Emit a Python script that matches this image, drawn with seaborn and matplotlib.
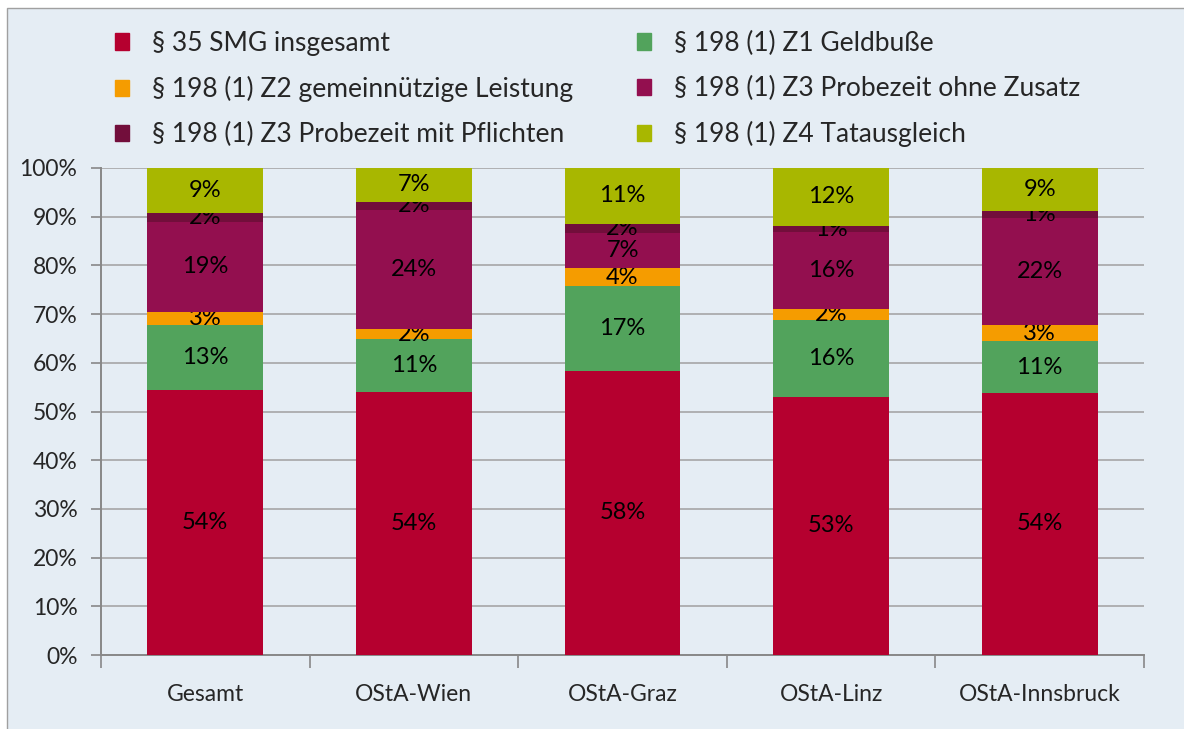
import matplotlib.pyplot as plt
import matplotlib.patches as mpatches
import numpy as np
import seaborn as sns

# categories on the x axis
regions = ["Gesamt", "OStA-Wien", "OStA-Graz", "OStA-Linz", "OStA-Innsbruck"]

# stacked series, bottom to top (share in %)
smg_insgesamt = [54.4, 54.1, 58.4, 53.0, 53.8]
z1_geldbusse = [13.4, 10.8, 17.4, 15.8, 10.6]
z2_gemeinnuetzig = [2.6, 2.0, 3.6, 2.2, 3.4]
z3_ohne_zusatz = [18.6, 24.4, 7.2, 15.8, 22.0]
z3_mit_pflichten = [1.8, 1.8, 2.0, 1.3, 1.3]
z4_tatausgleich = [9.2, 6.9, 11.4, 11.9, 8.9]

series_names = [
    "§ 35 SMG insgesamt",
    "§ 198 (1) Z1 Geldbuße",
    "§ 198 (1) Z2 gemeinnützige Leistung",
    "§ 198 (1) Z3 Probezeit ohne Zusatz",
    "§ 198 (1) Z3 Probezeit mit Pflichten",
    "§ 198 (1) Z4 Tatausgleich",
]
series_values = [smg_insgesamt, z1_geldbusse, z2_gemeinnuetzig,
                 z3_ohne_zusatz, z3_mit_pflichten, z4_tatausgleich]
colors = ["#B5002F", "#52A35C", "#F59C00", "#930F4F", "#720E3B", "#A8B700"]

BG = "#E5EDF4"
GRID = "#A6A6A6"

sns.set_theme(style="white")
plt.rcParams["font.family"] = ["Lato", "DejaVu Sans"]

fig = plt.figure(figsize=(11.84, 7.29), dpi=100, facecolor="white")
# chart area panel with thin border
fig.patches.append(mpatches.Rectangle((7 / 1184, -0.01), 1.1, (729 - 8) / 729 + 0.01,
                                      transform=fig.transFigure, facecolor=BG,
                                      edgecolor="#A0A0A0", linewidth=1.0, zorder=-10))
ax = fig.add_axes([101 / 1184, 74 / 729, (1144 - 101) / 1184, (655 - 168) / 729])
ax.set_facecolor(BG)

bottom = np.zeros(len(regions))
handles = []
for name, vals, col in zip(series_names, series_values, colors):
    sns.barplot(x=regions, y=vals, bottom=bottom, color=col, width=0.555,
                errorbar=None, saturation=1, ax=ax, zorder=3, linewidth=0)
    cont = ax.containers[-1]
    ax.bar_label(cont, labels=[f"{round(v)}%" for v in vals], label_type="center",
                 fontsize=17, color="black")
    handles.append(mpatches.Patch(color=col, label=name))
    bottom += np.array(vals)

ax.set_ylim(0, 100)
ax.set_xlim(-0.5, len(regions) - 0.5)
ax.set_yticks(np.arange(0, 101, 10))
ax.set_yticklabels([f"{v}%" for v in range(0, 101, 10)], fontsize=16.5)
ax.yaxis.grid(True, color=GRID, linewidth=1.2, zorder=0)
ax.set_axisbelow(True)
ax.tick_params(axis="y", length=7, color="#888888", width=1.2, pad=10, left=True)

ax.set_xticks(range(len(regions)))
ax.set_xticklabels(regions, fontsize=16.5)
ax.tick_params(axis="x", length=0, pad=21)
ax.set_xticks(np.arange(-0.5, len(regions)), minor=True)
ax.tick_params(axis="x", which="minor", length=9, color="#888888", width=1.2, bottom=True)
ax.set_xlabel("")
ax.set_ylabel("")

for s in ["top", "right"]:
    ax.spines[s].set_visible(False)
for s in ["left", "bottom"]:
    ax.spines[s].set_color("#888888")
    ax.spines[s].set_linewidth(1.4)

# legend: row-wise order, two columns
order = [0, 2, 4, 1, 3, 5]
fig.legend([handles[i] for i in order], [series_names[i] for i in order],
           ncol=2, loc="upper left", bbox_to_anchor=(115 / 1184, 1 - 31 / 729),
           frameon=False, fontsize=19, handlelength=0.53, handleheight=0.6,
           handletextpad=0.87, columnspacing=2.42, labelspacing=0.76,
           borderpad=0, borderaxespad=0)

fig.savefig("out.png", dpi=100, facecolor="white")
